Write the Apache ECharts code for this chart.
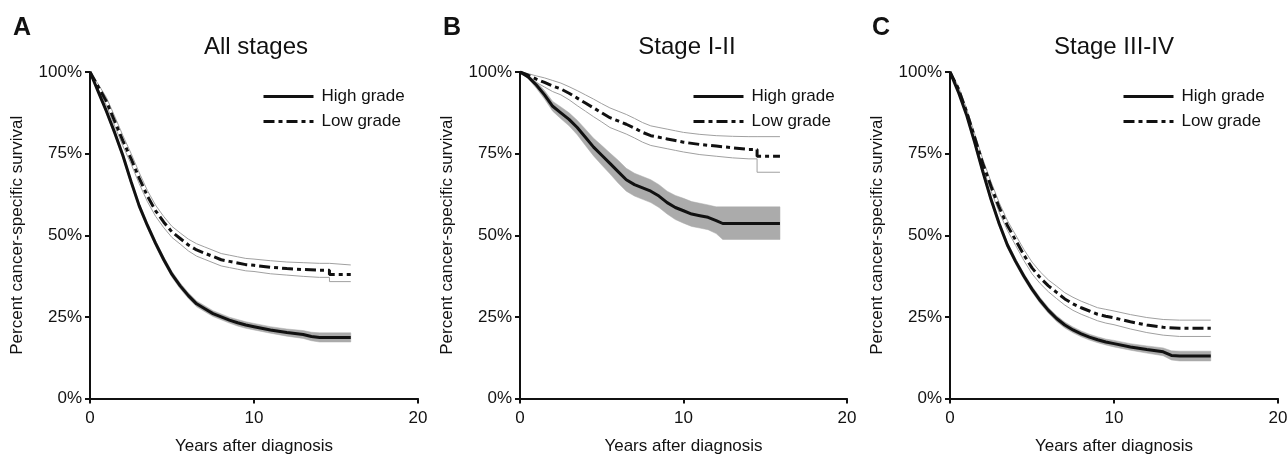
<!DOCTYPE html>
<html><head><meta charset="utf-8">
<script src="https://cdn.jsdelivr.net/npm/echarts@6/dist/echarts.min.js"></script>
<style>html,body{margin:0;padding:0;background:#fff}#c{width:1287px;height:455px}</style>
</head><body><div id="c"></div>
<script>
// ---------- DATA ----------
const panelLetters = ['A', 'B', 'C'];
const panelTitles = ['All stages', 'Stage I-II', 'Stage III-IV'];
const seriesNames = ['High grade', 'Low grade'];
const xTickValues = [0, 10, 20];
const yTickValues = [0, 25, 50, 75, 100];
const xAxisTitle = 'Years after diagnosis';
const yAxisTitle = 'Percent cancer-specific survival';

// Panel A – All stages
const aHighT  = [0,0.25,0.5,0.75,1,1.5,2,2.5,3,3.5,4,4.5,5,5.5,6,6.5,7,7.5,8,8.5,9,9.5,10,11,12,13,13.5,14,15,15.9];
const aHigh   = [100,97,94,91,88,81.5,74.5,66.5,59,53,47.5,42.5,38,34.5,31.5,29,27.5,26,25,24,23.2,22.5,22,21,20.2,19.6,19,18.7,18.7,18.7];
const aHighLo = [100,96.7,93.5,90.4,87.3,80.7,73.6,65.6,58.1,52.1,46.6,41.6,37.1,33.6,30.6,28.1,26.6,25.1,24.1,23.1,22.2,21.5,21,20,19.1,18.4,17.7,17.3,17.3,17.3];
const aHighHi = [100,97.3,94.5,91.6,88.7,82.3,75.4,67.4,59.9,53.9,48.4,43.4,38.9,35.4,32.4,29.9,28.4,26.9,25.9,24.9,24.2,23.5,23,22,21.3,20.8,20.3,20.1,20.1,20.1];
const aLowT   = [0,0.5,1,1.5,2,2.5,3,3.5,4,4.5,5,5.5,6,6.5,7,7.5,8,8.5,9,9.5,10,11,12,13,14,14.6,14.6,15.9];
const aLow    = [100,95.5,91,85,79,73.5,67.5,62,57.5,54,51,49,47,45.5,44.5,43.5,42.5,42,41.5,41,40.8,40.2,39.8,39.5,39.3,39.3,38,38];
const aLowHi  = [100,96.3,92.2,86.5,80.6,75.1,69.2,63.7,59.2,55.7,52.7,50.7,48.8,47.4,46.4,45.4,44.4,43.9,43.4,42.9,42.7,42.2,41.8,41.6,41.4,41.4,40.9,40.9];
const aLowLo  = [100,94.7,89.8,83.5,77.4,71.9,65.8,60.3,55.8,52.3,49.3,47.3,45.2,43.6,42.6,41.6,40.6,40.1,39.6,39.1,38.9,38.2,37.8,37.4,37.1,37.1,35.8,35.8];

// Panel B – Stage I-II
const bHighT  = [0,0.5,1,1.5,2,2.5,3,3.5,4,4.5,5,5.5,6,6.5,7,7.5,8,8.5,9,9.5,10,10.5,11,11.5,12,12.4,15.9];
const bHigh   = [100,98.5,96,93,89.5,87.5,85.5,83,80,77,74.5,72,69.5,67,65.5,64.5,63.5,62,60,58.5,57.5,56.5,56,55.5,54.5,53.6,53.6];
const bHighHi = [100,99,97,94.3,91,89.3,87.5,85.2,82.5,79.7,77.5,75.2,73,70.5,69,68,67,65.5,63.5,62.2,61.3,60.3,59.8,59.3,58.7,58.7,58.7];
const bHighLo = [100,98,95,91.7,88,85.7,83.5,80.8,77.5,74.3,71.5,68.8,66,63.5,62,61,60,58.5,56.5,54.8,53.7,52.7,52.2,51.7,50.5,48.7,48.7];
const bLowT   = [0,0.5,1,1.5,2,2.5,3,3.5,4,4.5,5,5.5,6,6.5,7,7.5,8,8.5,9,9.5,10,11,12,13,14,14.5,14.5,15.9];
const bLow    = [100,99,97.8,96.8,95.7,94.8,93.5,92,90.5,89,87.5,86,85,84,82.8,81.5,80.5,80,79.5,79,78.5,77.8,77.3,76.8,76.3,76.3,74.2,74.2];
const bLowHi  = [100,99.5,98.8,98.2,97.4,96.6,95.5,94.3,93,91.7,90.3,89,88,87,85.8,84.5,83.5,83,82.5,82,81.5,80.9,80.5,80.3,80.2,80.2,80.2,80.2];
const bLowLo  = [100,98.5,96.8,95.4,94,93,91.5,89.7,88,86.3,84.7,83,82,81,79.8,78.5,77.5,77,76.5,76,75.5,74.7,74.2,73.7,73.4,73.4,69.3,69.3];

// Panel C – Stage III-IV
const cHighT  = [0,0.5,1,1.5,2,2.5,3,3.5,4,4.5,5,5.5,6,6.5,7,7.5,8,8.5,9,9.5,10,11,12,13,13.5,14,15,15.9];
const cHigh   = [100,94,87,78.5,69.5,61,53.5,47,42,37.5,33.5,30,27,24.5,22.5,21,19.8,18.8,18,17.3,16.8,15.8,15,14.3,13.2,13,13,13];
const cHighHi = [100,94.4,87.6,79.3,70.4,61.9,54.4,47.9,42.9,38.4,34.4,30.9,27.9,25.4,23.4,21.9,20.7,19.7,18.9,18.2,17.8,16.8,16.1,15.5,14.6,14.5,14.5,14.5];
const cHighLo = [100,93.6,86.4,77.7,68.6,60.1,52.6,46.1,41.1,36.6,32.6,29.1,26.1,23.6,21.6,20.1,18.9,17.9,17.1,16.4,15.8,14.8,13.9,13.1,11.8,11.5,11.5,11.5];
const cLowT   = [0,0.5,1,1.5,2,2.5,3,3.5,4,4.5,5,5.5,6,6.5,7,7.5,8,8.5,9,9.5,10,11,12,13,14,15,15.9];
const cLow    = [100,95,88,80,72,65,58.5,53,48.5,44,40,37,34.5,32.5,30.5,29,27.8,26.8,25.8,25.2,24.7,23.5,22.5,21.8,21.5,21.5,21.5];
const cLowHi  = [100,95.8,89,81.2,73.3,66.4,60,54.5,50.1,45.7,41.8,38.8,36.3,34.4,32.4,31,29.8,28.8,27.8,27.3,26.8,25.7,24.8,24.2,24,24,24];
const cLowLo  = [100,94.2,87,78.8,70.7,63.6,57,51.5,46.9,42.3,38.2,35.2,32.7,30.6,28.6,27,25.8,24.8,23.8,23.1,22.6,21.3,20.2,19.4,19,19,19];

// ---------- LAYOUT / STYLE ----------
const F = "'Liberation Sans', Arial, Helvetica, sans-serif";
const INK = '#111';
const DASHDOT = [11, 4, 4, 4];
const gridBoxes = [
  {left: 90,  top: 72, width: 328, height: 326.5, outerBoundsMode: 'none', containLabel: false},
  {left: 520, top: 72, width: 327, height: 326.5, outerBoundsMode: 'none', containLabel: false},
  {left: 950, top: 72, width: 328, height: 326.5, outerBoundsMode: 'none', containLabel: false}
];
const legendLefts = [262, 692, 1122];
const letterX = [22, 452, 881];
const titleX = [256, 687, 1114];

const panels = [
  {hT: aHighT, h: aHigh, hLo: aHighLo, hHi: aHighHi, lT: aLowT, l: aLow, lLo: aLowLo, lHi: aLowHi},
  {hT: bHighT, h: bHigh, hLo: bHighLo, hHi: bHighHi, lT: bLowT, l: bLow, lLo: bLowLo, lHi: bLowHi},
  {hT: cHighT, h: cHigh, hLo: cHighLo, hHi: cHighHi, lT: cLowT, l: cLow, lLo: cLowLo, lHi: cLowHi}
];

function zip(t, v) { return t.map((x, i) => [x, v[i]]); }

function bandSeries(gi, t, lo, hi) {
  return {
    type: 'custom', xAxisIndex: gi, yAxisIndex: gi, silent: true, z: 1,
    data: t.map((x, i) => [x, lo[i], hi[i]]),
    encode: {x: 0, y: [1, 2]},
    renderItem: function (params, api) {
      if (params.dataIndex !== 0) return null;
      const pts = [];
      for (let i = 0; i < t.length; i++) pts.push(api.coord([t[i], hi[i]]));
      for (let i = t.length - 1; i >= 0; i--) pts.push(api.coord([t[i], lo[i]]));
      return {type: 'polygon', shape: {points: pts}, style: {fill: '#ababab', stroke: '#ababab', lineWidth: 0.5}};
    }
  };
}

const series = [];
panels.forEach((p, gi) => {
  series.push(bandSeries(gi, p.hT, p.hLo, p.hHi));
  series.push({name: 'Low CI upper ' + gi, type: 'line', xAxisIndex: gi, yAxisIndex: gi, data: zip(p.lT, p.lHi),
    showSymbol: false, symbol: 'none', silent: true, z: 2, lineStyle: {color: '#a0a0a0', width: 1}});
  series.push({name: 'Low CI lower ' + gi, type: 'line', xAxisIndex: gi, yAxisIndex: gi, data: zip(p.lT, p.lLo),
    showSymbol: false, symbol: 'none', silent: true, z: 2, lineStyle: {color: '#a0a0a0', width: 1}});
  series.push({name: seriesNames[0], type: 'line', xAxisIndex: gi, yAxisIndex: gi, data: zip(p.hT, p.h),
    showSymbol: false, symbol: 'none', z: 3, itemStyle: {color: INK}, lineStyle: {color: INK, width: 3}});
  series.push({name: seriesNames[1], type: 'line', xAxisIndex: gi, yAxisIndex: gi, data: zip(p.lT, p.l),
    showSymbol: false, symbol: 'none', z: 3, itemStyle: {color: INK}, lineStyle: {color: INK, width: 3, type: DASHDOT}});
});

const axisLineStyle = {lineStyle: {color: INK, width: 2}};
const xAxes = gridBoxes.map((g, i) => ({
  type: 'value', gridIndex: i, min: xTickValues[0], max: xTickValues[xTickValues.length - 1], interval: 10,
  splitLine: {show: false}, axisLine: axisLineStyle,
  axisTick: {show: true, length: 5, lineStyle: {color: INK, width: 2}},
  axisLabel: {fontSize: 17, color: INK, fontFamily: F, margin: 11, showMaxLabel: true, showMinLabel: true},
  name: xAxisTitle, nameLocation: 'middle', nameGap: 39,
  nameTextStyle: {fontSize: 17, color: INK, fontFamily: F}
}));
const yAxes = gridBoxes.map((g, i) => ({
  type: 'value', gridIndex: i, min: yTickValues[0], max: yTickValues[yTickValues.length - 1], interval: 25,
  splitLine: {show: false}, axisLine: {show: true, onZero: false, lineStyle: {color: INK, width: 2}},
  axisTick: {show: true, length: 5, lineStyle: {color: INK, width: 2}},
  axisLabel: {fontSize: 17, color: INK, fontFamily: F, margin: 8, formatter: v => v + '%'},
  name: yAxisTitle, nameLocation: 'middle', nameGap: 64, nameRotate: 90,
  nameTextStyle: {fontSize: 17, color: INK, fontFamily: F}
}));

const graphics = [];
panelLetters.forEach((L, i) => {
  graphics.push({type: 'text', x: letterX[i], y: 28, style: {text: L, fill: INK, font: 'bold 25px ' + F, textAlign: 'center', textVerticalAlign: 'middle'}});
  graphics.push({type: 'text', x: titleX[i], y: 47, style: {text: panelTitles[i], fill: INK, font: '24px ' + F, textAlign: 'center', textVerticalAlign: 'middle'}});
});

const chart = echarts.init(document.getElementById('c'), null, {renderer: 'canvas'});
chart.setOption({
  animation: false,
  backgroundColor: '#fff',
  grid: gridBoxes,
  xAxis: xAxes,
  yAxis: yAxes,
  legend: legendLefts.map(l => ({
    left: l, top: 88, orient: 'vertical', padding: 0, itemWidth: 50, itemHeight: 16, itemGap: 8,
    data: seriesNames, selectedMode: false,
    itemStyle: {opacity: 0, borderWidth: 0},
    lineStyle: {width: 3, color: INK},
    textStyle: {fontSize: 17, color: INK, fontFamily: F, padding: [0, 0, 0, 3]}
  })),
  graphic: graphics,
  series: series
});
</script>
</body></html>
